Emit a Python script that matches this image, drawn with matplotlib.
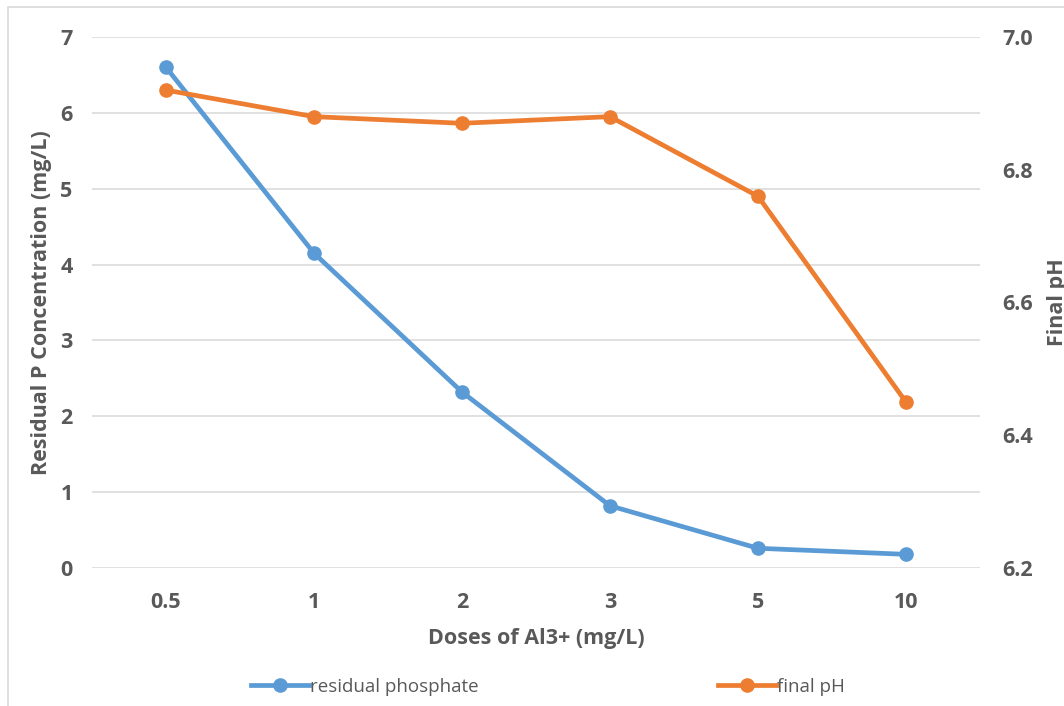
import matplotlib.pyplot as plt
from matplotlib.patches import Rectangle
from matplotlib.lines import Line2D

# data
doses = ["0.5", "1", "2", "3", "5", "10"]
residual_p = [6.6, 4.15, 2.32, 0.82, 0.26, 0.18]
final_ph = [6.92, 6.88, 6.87, 6.88, 6.76, 6.45]

BLUE = "#5B9BD5"
ORANGE = "#ED7D31"
TEXT = "#595959"
GRID = "#D9D9D9"
FS = 15.5

plt.rcParams["font.family"] = ["Open Sans", "DejaVu Sans"]

fig = plt.figure(figsize=(10.64, 7.06), dpi=100)
W, H = 1064, 706

# outer chart border (cut off on right/bottom like the reference)
fig.patches.append(Rectangle((8 / W, -0.1), 1.2, (H - 7) / H + 0.1,
                             transform=fig.transFigure, fill=False,
                             edgecolor=GRID, linewidth=1.2))

ax = fig.add_axes([92 / W, 138 / H, 888 / W, 531 / H])
ax2 = ax.twinx()

x = range(len(doses))
ax.plot(x, residual_p, color=BLUE, lw=3.4, marker="o", ms=9.5, zorder=3)
ax2.plot(x, final_ph, color=ORANGE, lw=3.4, marker="o", ms=9.5, zorder=3)

ax.set_xlim(-0.5, len(doses) - 0.5)
ax.set_ylim(0, 7)
ax2.set_ylim(6.2, 7.0)
ax.set_yticks(range(0, 8))
ax2.set_yticks([6.2, 6.4, 6.6, 6.8, 7.0])
ax2.set_yticklabels([f"{v:.1f}" for v in [6.2, 6.4, 6.6, 6.8, 7.0]])
ax.set_xticks(list(x))
ax.set_xticklabels(doses)

ax.grid(axis="y", color=GRID, lw=1.1)
ax.set_axisbelow(True)
for a in (ax, ax2):
    for s in a.spines.values():
        s.set_visible(False)
    a.tick_params(length=0, labelsize=FS, labelcolor=TEXT)
    for lbl in a.get_xticklabels() + a.get_yticklabels():
        lbl.set_fontweight("bold")
ax.tick_params(axis="y", pad=14)
ax.tick_params(axis="x", pad=17.5)
ax2.tick_params(axis="y", pad=16)

ax.set_ylabel("Residual P Concentration (mg/L)", fontsize=FS,
              fontweight="bold", color=TEXT, labelpad=6)
ax.set_xlabel("Doses of Al3+ (mg/L)", fontsize=FS, fontweight="bold",
              color=TEXT, labelpad=10.5)
ax2.set_ylabel("Final pH", fontsize=FS, fontweight="bold", color=TEXT,
               rotation=90, labelpad=10)

handles = [Line2D([], [], color=BLUE, lw=3.4, marker="o", ms=9.5),
           Line2D([], [], color=ORANGE, lw=3.4, marker="o", ms=9.5)]
leg = fig.legend(handles, ["residual phosphate", "final pH"], ncol=2,
                 loc="center", bbox_to_anchor=(548 / W, 1 - 687 / H),
                 frameon=False, fontsize=13.5, handlelength=3.1,
                 handletextpad=0.05, columnspacing=12.8)
for t in leg.get_texts():
    t.set_color(TEXT)

fig.savefig("out.png", dpi=100)
